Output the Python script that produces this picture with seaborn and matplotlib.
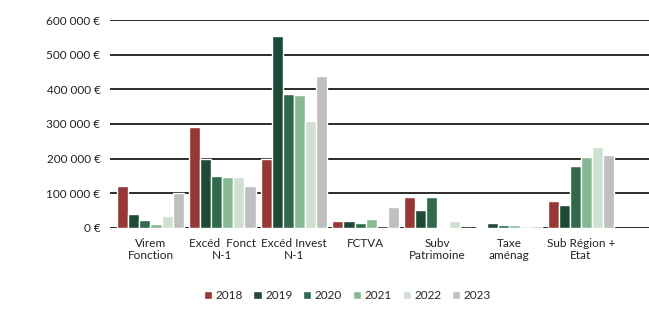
import pandas as pd
import matplotlib.pyplot as plt
import seaborn as sns
from matplotlib.ticker import FuncFormatter

categories = ["Virem\nFonction", "Excéd  Fonct\nN-1", "Excéd Invest\nN-1", "FCTVA",
              "Subv\nPatrimoine", "Taxe\naménag", "Sub Région +\nEtat"]
years = ["2018", "2019", "2020", "2021", "2022", "2023"]

v2018 = [120000, 290000, 200000, 20000, 90000, 3000, 78000]
v2019 = [40000, 200000, 555000, 20000, 52000, 15000, 65000]
v2020 = [22000, 150000, 388000, 15000, 90000, 8000, 180000]
v2021 = [10000, 148000, 385000, 27000, 2000, 8000, 205000]
v2022 = [35000, 148000, 310000, 0, 20000, 5000, 235000]
v2023 = [100000, 120000, 440000, 60000, 0, 5000, 210000]

colors = ["#953735", "#1d4b37", "#2f6b4a", "#86b894", "#cfe0d0", "#bfbfbf"]

rows = []
for year, vals in zip(years, [v2018, v2019, v2020, v2021, v2022, v2023]):
    for cat, v in zip(categories, vals):
        rows.append({"cat": cat, "year": year, "value": v})
df = pd.DataFrame(rows)

sns.set_style("white")
plt.rcParams["font.family"] = ["Lato", "DejaVu Sans"]

fig = plt.figure(figsize=(6.49, 3.10), dpi=100)
ax = fig.add_axes([0.17, 0.265, 0.83, 0.67])

sns.barplot(data=df, x="cat", y="value", hue="year", palette=colors,
            width=0.93, ax=ax, errorbar=None, saturation=1)

ax.set_ylim(0, 600000)
ax.set_yticks(range(0, 600001, 100000))
ax.yaxis.set_major_formatter(FuncFormatter(
    lambda v, p: f"{int(v):,} €".replace(",", " ")))
ax.grid(axis="y", color="#1a1a1a", linewidth=1.3)
ax.set_axisbelow(True)
for s in ax.spines.values():
    s.set_visible(False)
ax.tick_params(axis="both", length=0, labelsize=8.5, pad=7, labelcolor="#222222")
ax.set_xlabel("")
ax.set_ylabel("")
ax.set_xlim(-0.56, 6.95)

ax.legend(loc="upper center", bbox_to_anchor=(0.44, -0.25), ncol=6,
          frameon=False, fontsize=8.5, handlelength=0.7, handleheight=0.7,
          handletextpad=0.3, columnspacing=0.9)

fig.savefig("out.png", dpi=100, facecolor="white")
